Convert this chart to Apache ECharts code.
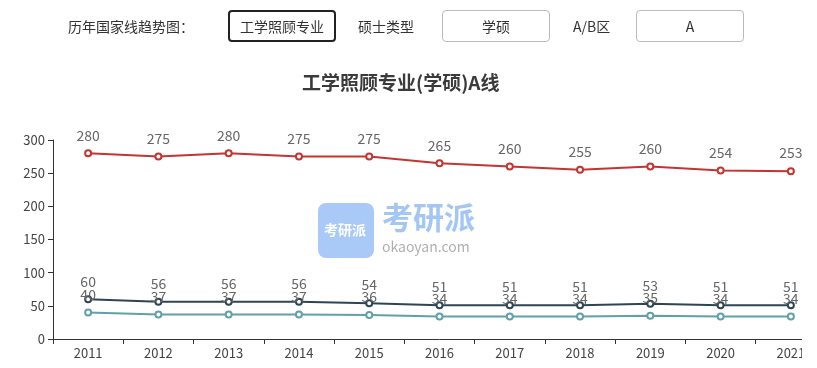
<!DOCTYPE html>
<html><head><meta charset="utf-8">
<script src="https://cdn.jsdelivr.net/npm/echarts@6/dist/echarts.min.js"></script>
<style>
html,body{margin:0;padding:0;background:#fff;width:817px;height:368px;overflow:hidden;font-family:"Noto Sans CJK SC",sans-serif;}
#bar{position:absolute;left:0;top:0;width:817px;height:52px;z-index:2;font-size:14px;color:#333;}
#bar .t{position:absolute;top:16px;line-height:20px;white-space:nowrap;}
#bar .b{position:absolute;top:10px;height:32px;width:108px;box-sizing:border-box;border:1px solid #bbb;border-radius:4px;text-align:center;line-height:30px;background:#fff;}
#bar .b.on{border:2px solid #222;line-height:28px;}
#wrap{position:absolute;left:0;top:0;width:802px;height:368px;overflow:hidden;}
#chart{position:absolute;left:0;top:0;width:830px;height:368px;}
</style></head>
<body>
<div id="wrap"><div id="chart"></div></div>
<div id="bar">
  <div class="t" style="left:68px">历年国家线趋势图：</div>
  <div class="b on" style="left:228px">工学照顾专业</div>
  <div class="t" style="left:358px">硕士类型</div>
  <div class="b" style="left:442px">学硕</div>
  <div class="t" style="left:573px">A/B区</div>
  <div class="b" style="left:636px">A</div>
</div>
<script>
const years = ['2011','2012','2013','2014','2015','2016','2017','2018','2019','2020','2021'];
const totalScore = [280,275,280,275,275,265,260,255,260,254,253];
const single100 = [60,56,56,56,54,51,51,51,53,51,51];
const single150 = [40,37,37,37,36,34,34,34,35,34,34];
const yTicks = {min:0, max:300, interval:50};
const titleText = '工学照顾专业(学硕)A线';

const font = "'Microsoft YaHei','Noto Sans CJK SC',sans-serif";
const chart = echarts.init(document.getElementById('chart'));
function mk(name, data, color){
  return {
    name, type:'line', data,
    symbol:'emptyCircle', symbolSize:6,
    lineStyle:{width:2,color},
    itemStyle:{color, borderWidth:1.5},
    label:{show:true, position:'top', distance:7, color:'#666', fontSize:14, fontFamily:font},
    z:3
  };
}
chart.setOption({
  animation:false,
  textStyle:{fontFamily:font},
  title:{text:titleText, left:297, top:68, textStyle:{fontSize:19, fontWeight:'bold', color:'#3a3a3a', fontFamily:font}},
  grid:{left:53, right:4, top:140, bottom:29},
  xAxis:{type:'category', data:years, boundaryGap:true,
    axisLine:{show:true, lineStyle:{color:'#333'}},
    axisTick:{show:true, length:5, lineStyle:{color:'#333'}},
    axisLabel:{color:'#444', fontSize:13, margin:8}},
  yAxis:{type:'value', min:yTicks.min, max:yTicks.max, interval:yTicks.interval,
    splitLine:{show:false},
    axisLine:{show:true, lineStyle:{color:'#333'}},
    axisTick:{show:true, length:5, lineStyle:{color:'#333'}},
    axisLabel:{color:'#444', fontSize:13, margin:8}},
  graphic:[
    {type:'rect', left:318, top:203, shape:{width:56, height:55, r:8}, style:{fill:'#a9c9f6'}, z:0},
    {type:'text', left:324, top:223, style:{text:'考研派', fill:'#fff', font:'bold 14px '+font}, z:0},
    {type:'text', left:382, top:202, style:{text:'考研派', fill:'#a3c6f5', font:'bold 31px '+font}, z:0},
    {type:'text', left:382, top:240, style:{text:'okaoyan.com', fill:'#b0b0b0', font:'14px '+font}, z:0}
  ],
  series:[
    mk('总分', totalScore, '#c23531'),
    mk('单科(满分=100)', single100, '#2f4554'),
    mk('单科(满分>100)', single150, '#61a0a8')
  ]
});
</script>
</body></html>
